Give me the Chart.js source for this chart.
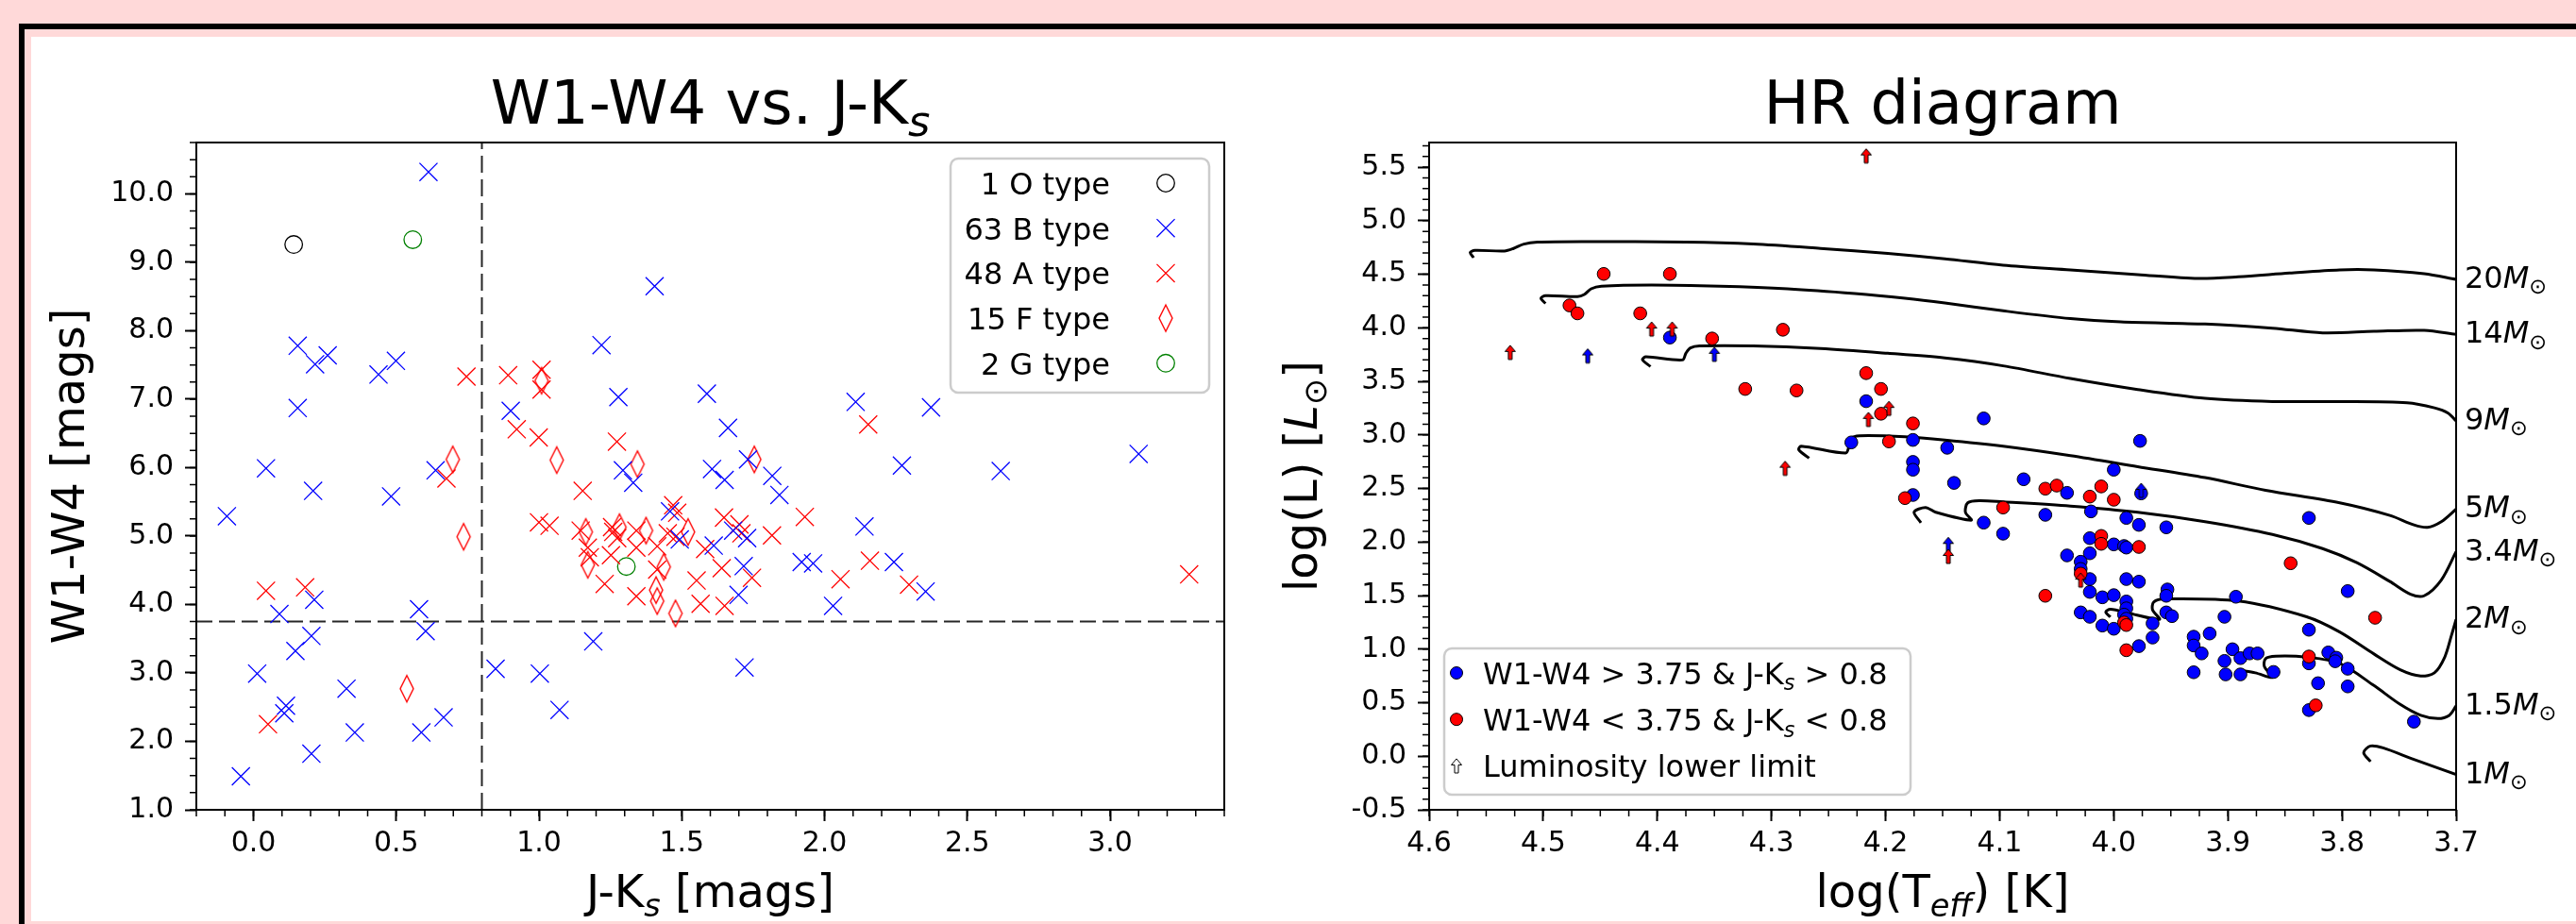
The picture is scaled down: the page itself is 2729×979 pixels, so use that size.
<!DOCTYPE html>
<html>
<head>
<meta charset="utf-8">
<script src="https://cdn.jsdelivr.net/npm/chart.js@4.4.1/dist/chart.umd.min.js"></script>
<style>
  html, body { margin: 0; padding: 0; width: 2729px; height: 979px; overflow: hidden; background: #ffd9d9; }
  #frame { position: absolute; left: 20px; top: 25px; border: 6px solid #000; padding: 8px 0 8px 7px; background: #ffd9d9; }
  #paper { width: 2800px; height: 937px; background: #fff; }
  canvas { position: absolute; left: 0; top: 0; }
</style>
</head>
<body>
<div id="frame"><div id="paper"></div></div>
<canvas id="colour" width="2729" height="979"></canvas>
<canvas id="hr" width="2729" height="979"></canvas>
<script>
// ---------- W1-W4 vs J-Ks ----------
const oTypeJK = [0.141];
const oTypeW = [9.26];
const bTypeJK = [0.613,1.405,0.155,0.216,0.260,0.438,0.499,1.219,1.278,0.901,0.155,0.044,0.638,1.294,1.330,0.209,0.482,-0.093,1.459,1.588,2.109,2.373,1.662,3.100,2.271,2.617,1.606,1.650,1.732,1.817,1.842,2.140,0.213,0.091,0.580,0.603,0.203,0.147,0.013,0.848,1.003,1.190,1.072,0.114,0.108,0.326,0.666,0.355,0.588,0.203,-0.044,1.493,1.612,1.680,1.729,1.717,1.699,1.920,1.960,2.030,2.243,2.354,1.720];
const bTypeW = [10.32,8.65,7.78,7.51,7.64,7.36,7.56,7.79,7.03,6.83,6.87,5.99,5.96,5.96,5.78,5.66,5.58,5.29,5.36,7.08,6.96,6.88,6.58,6.20,6.03,5.95,5.98,5.82,6.12,5.88,5.60,5.14,4.07,3.86,3.93,3.61,3.54,3.32,2.99,3.06,2.99,3.46,2.46,2.52,2.41,2.77,2.35,2.13,2.13,1.82,1.49,4.95,4.86,5.08,4.97,4.56,4.14,4.62,4.60,3.98,4.62,4.19,3.08];
const aTypeJK = [0.746,0.892,1.009,1.009,0.922,0.999,1.273,0.676,1.153,2.153,1.470,1.484,1.931,0.044,0.181,0.051,1.000,1.037,1.146,1.256,1.260,1.341,1.274,1.341,1.414,1.451,1.478,1.582,1.648,1.702,1.709,1.816,1.171,1.230,1.178,1.252,1.341,1.414,1.552,1.640,1.566,1.650,1.746,2.056,2.159,2.296,3.277];
const aTypeW = [7.33,7.35,7.43,7.14,6.56,6.44,6.38,5.84,5.66,6.63,5.45,5.34,5.28,4.20,4.25,2.25,5.20,5.15,5.08,5.13,5.06,5.08,4.97,4.83,4.85,5.04,4.99,4.81,5.27,5.17,5.04,5.01,4.83,4.30,4.69,4.72,4.12,4.51,4.35,4.53,4.01,3.98,4.39,4.37,4.64,4.29,4.44];
const fTypeJK = [1.009,1.062,1.345,0.698,1.754,0.736,0.537,1.164,1.282,1.375,1.522,1.171,1.437,1.410,1.414,1.478];
const fTypeW = [7.27,6.11,6.05,6.12,6.12,4.99,2.77,5.06,5.13,5.08,5.06,4.58,4.55,4.21,4.05,3.87];
const gTypeJK = [0.558,1.306];
const gTypeW = [9.33,4.555];
const cutJK = 0.8;
const cutW = 3.75;
const jkTicks = [0.0, 0.5, 1.0, 1.5, 2.0, 2.5, 3.0];
const wTicks = [1, 2, 3, 4, 5, 6, 7, 8, 9, 10];

// ---------- HR diagram ----------
const blueLogT = [4.389,4.217,4.230,4.176,4.176,4.176,4.176,4.114,3.977,4.146,4.000,4.140,4.079,4.041,3.976,4.060,4.114,4.097,4.020,3.989,3.978,3.954,3.829,4.021,4.000,3.991,3.989,4.041,4.021,4.029,4.029,4.021,3.989,3.978,3.795,4.021,4.010,4.000,3.989,3.989,3.991,3.989,3.953,3.954,3.893,3.954,3.949,3.903,4.029,4.021,4.010,4.000,3.966,3.966,3.829,3.930,3.916,3.930,3.923,3.978,3.896,3.903,3.889,3.881,3.874,3.930,3.902,3.889,3.860,3.829,3.812,3.805,3.806,3.795,3.821,3.795,3.829,3.737];
const blueLogL = [3.909,3.315,2.930,2.953,2.748,2.675,2.439,3.154,2.944,2.880,2.675,2.552,2.586,2.459,2.454,2.254,2.181,2.078,2.286,2.225,2.160,2.137,2.225,2.036,1.978,1.963,1.948,1.875,1.895,1.816,1.749,1.654,1.654,1.630,1.542,1.534,1.484,1.504,1.445,1.381,1.322,1.284,1.557,1.498,1.489,1.343,1.308,1.302,1.343,1.302,1.220,1.190,1.240,1.108,1.181,1.116,1.146,1.034,0.960,1.028,0.999,0.890,0.916,0.960,0.960,0.784,0.764,0.764,0.787,0.867,0.969,0.920,0.887,0.817,0.682,0.652,0.431,0.323];
const redLogT = [4.447,4.389,4.477,4.470,4.415,4.352,4.290,4.323,4.278,4.217,4.204,4.204,4.176,4.197,4.183,4.060,4.050,4.011,4.021,4.000,4.097,4.011,4.011,3.978,4.029,3.845,4.060,3.771,3.991,3.989,3.989,3.829,3.823];
const redLogL = [4.503,4.503,4.209,4.135,4.135,3.900,3.982,3.429,3.415,3.577,3.429,3.198,3.107,2.939,2.410,2.498,2.527,2.519,2.424,2.395,2.322,2.057,1.983,1.954,1.705,1.802,1.498,1.293,1.249,1.225,0.990,0.931,0.475];
const redArrowT = [4.217,4.405,4.387,4.529,4.197,4.215,4.288,4.145,4.029];
const redArrowL = [5.605,3.989,3.989,3.771,3.248,3.145,2.689,1.866,1.645];
const blueArrowT = [4.461,4.350,3.976,4.145];
const blueArrowL = [3.738,3.753,2.483,1.978];

// evolutionary tracks, [log Teff, log L]
const track20 = [[4.561,4.655],[4.564,4.703],[4.560,4.723],[4.534,4.717],[4.526,4.741],[4.517,4.782],[4.505,4.800],[4.464,4.805],[4.375,4.800],[4.316,4.782],[4.257,4.741],[4.198,4.694],[4.148,4.644],[4.097,4.585],[4.038,4.541],[3.979,4.497],[3.926,4.461],[3.891,4.476],[3.846,4.511],[3.802,4.541],[3.772,4.541],[3.728,4.505],[3.700,4.452]];
const track14 = [[4.498,4.227],[4.502,4.276],[4.498,4.300],[4.470,4.291],[4.464,4.311],[4.458,4.364],[4.449,4.388],[4.405,4.399],[4.345,4.388],[4.286,4.364],[4.227,4.320],[4.183,4.276],[4.148,4.232],[4.097,4.159],[4.038,4.086],[3.994,4.056],[3.920,4.035],[3.861,3.997],[3.817,3.953],[3.772,3.967],[3.728,3.976],[3.700,3.938]];
const track9 = [[4.406,3.638],[4.413,3.703],[4.410,3.729],[4.378,3.700],[4.375,3.762],[4.371,3.812],[4.363,3.830],[4.316,3.830],[4.257,3.806],[4.198,3.762],[4.148,3.718],[4.097,3.645],[4.038,3.527],[3.979,3.424],[3.920,3.341],[3.861,3.312],[3.802,3.312],[3.743,3.301],[3.719,3.253],[3.707,3.204],[3.700,3.130]];
const track5 = [[4.267,2.783],[4.276,2.860],[4.274,2.895],[4.235,2.830],[4.232,2.895],[4.230,2.968],[4.223,2.992],[4.183,2.983],[4.148,2.953],[4.097,2.895],[4.038,2.807],[3.979,2.704],[3.920,2.601],[3.867,2.483],[3.802,2.366],[3.758,2.248],[3.737,2.160],[3.725,2.137],[3.713,2.190],[3.700,2.307]];
const track34 = [[4.169,2.180],[4.175,2.279],[4.165,2.323],[4.156,2.278],[4.125,2.204],[4.130,2.278],[4.128,2.366],[4.118,2.386],[4.097,2.375],[4.038,2.336],[3.979,2.278],[3.920,2.190],[3.861,2.071],[3.817,1.939],[3.787,1.807],[3.758,1.631],[3.740,1.513],[3.728,1.498],[3.713,1.645],[3.700,1.910]];
const track2 = [[4.003,1.299],[4.007,1.346],[4.003,1.372],[3.985,1.331],[3.960,1.278],[3.966,1.366],[3.965,1.440],[3.955,1.469],[3.891,1.449],[3.831,1.302],[3.802,1.160],[3.772,0.955],[3.749,0.808],[3.731,0.749],[3.719,0.779],[3.710,0.925],[3.704,1.131],[3.700,1.278]];
const track15 = [[3.889,0.802],[3.876,0.779],[3.861,0.735],[3.868,0.837],[3.867,0.911],[3.858,0.934],[3.831,0.925],[3.802,0.867],[3.772,0.660],[3.749,0.484],[3.731,0.382],[3.716,0.352],[3.706,0.382],[3.700,0.470]];
const track1 = [[3.775,-0.050],[3.781,0.034],[3.775,0.096],[3.764,0.078],[3.737,-0.030],[3.700,-0.171]];
const trackMasses = ['20', '14', '9', '5', '3.4', '2', '1.5', '1'];
const teffTicks = [4.6, 4.5, 4.4, 4.3, 4.2, 4.1, 4.0, 3.9, 3.8, 3.7];
const lumTicks = [-0.5, 0.0, 0.5, 1.0, 1.5, 2.0, 2.5, 3.0, 3.5, 4.0, 4.5, 5.0, 5.5];

// ---------- helpers ----------
const FONT = '"DejaVu Sans"';
Chart.defaults.font.family = FONT;
Chart.defaults.color = '#000';

function pts(xs, ys) { return xs.map((x, i) => ({ x: x, y: ys[i] })); }

function richText(ctx, parts, x, y, size, align) {
  const items = parts.map(p => {
    const s = p.sub ? size * 0.7 : size;
    const font = (p.it ? 'italic ' : '') + s + 'px ' + FONT;
    ctx.font = font;
    return { t: p.t, font: font, w: ctx.measureText(p.t).width, dy: p.sub ? size * 0.2 : 0 };
  });
  const total = items.reduce((a, b) => a + b.w, 0);
  let cx = align === 'center' ? x - total / 2 : (align === 'right' ? x - total : x);
  ctx.textAlign = 'left';
  ctx.textBaseline = 'alphabetic';
  ctx.fillStyle = '#000';
  items.forEach(it => { ctx.font = it.font; ctx.fillText(it.t, cx, y + it.dy); cx += it.w; });
}

function makeDiamond(color) {
  const c = document.createElement('canvas');
  c.width = 18; c.height = 32;
  const g = c.getContext('2d');
  g.strokeStyle = color; g.lineWidth = 1.4;
  g.beginPath(); g.moveTo(9, 2); g.lineTo(16, 16); g.lineTo(9, 30); g.lineTo(2, 16); g.closePath();
  g.stroke();
  return c;
}

function makeArrow(fill) {
  const c = document.createElement('canvas');
  c.width = 16; c.height = 19;
  const g = c.getContext('2d');
  g.fillStyle = fill; g.strokeStyle = '#000'; g.lineWidth = 1;
  g.beginPath();
  g.moveTo(8, 2); g.lineTo(13.5, 8.5); g.lineTo(10, 8.5); g.lineTo(10, 17); g.lineTo(6, 17); g.lineTo(6, 8.5); g.lineTo(2.5, 8.5);
  g.closePath(); g.fill(); g.stroke();
  return c;
}

function legendMarker(ctx, ds, x, y) {
  const ps = ds.pointStyle;
  if (ps instanceof HTMLCanvasElement) { ctx.drawImage(ps, x - ps.width / 2, y - ps.height / 2); return; }
  ctx.save();
  ctx.lineWidth = ds.borderWidth; ctx.strokeStyle = ds.borderColor; ctx.fillStyle = ds.backgroundColor;
  ctx.beginPath();
  if (ps === 'crossRot') {
    const o = ds.pointRadius * Math.SQRT1_2;
    ctx.moveTo(x - o, y - o); ctx.lineTo(x + o, y + o);
    ctx.moveTo(x + o, y - o); ctx.lineTo(x - o, y + o);
  } else {
    ctx.arc(x, y, ds.pointRadius, 0, Math.PI * 2);
    ctx.fill();
  }
  ctx.stroke();
  ctx.restore();
}

function legendBox(ctx, x, y, w, h) {
  ctx.save();
  ctx.beginPath();
  ctx.roundRect(x, y, w, h, 8);
  ctx.fillStyle = 'rgba(255,255,255,0.8)';
  ctx.fill();
  ctx.lineWidth = 2.5; ctx.strokeStyle = '#cccccc';
  ctx.stroke();
  ctx.restore();
}

function minorTicks(ctx, scale, from, to, step, vertical, a) {
  ctx.save();
  ctx.strokeStyle = '#000'; ctx.lineWidth = 1.5;
  ctx.beginPath();
  const n = Math.round((to - from) / step);
  for (let i = 0; i <= n; i++) {
    const p = scale.getPixelForValue(from + i * step);
    if (vertical) { ctx.moveTo(a.left - 7, p); ctx.lineTo(a.left, p); }
    else { ctx.moveTo(p, a.bottom); ctx.lineTo(p, a.bottom + 7); }
  }
  ctx.stroke();
  ctx.restore();
}

function spines(ctx, a) {
  ctx.save();
  ctx.strokeStyle = '#000'; ctx.lineWidth = 2;
  ctx.strokeRect(a.left, a.top, a.right - a.left, a.bottom - a.top);
  ctx.restore();
}

function tickOpts(pad) {
  return { font: { family: FONT, size: 30 }, color: '#000', padding: pad, maxRotation: 0, autoSkip: false,
           callback: v => Number(v).toFixed(1) };
}
const gridOpts = { drawOnChartArea: false, drawTicks: true, tickLength: 12, tickWidth: 2, tickColor: '#000' };

// ---------- left chart ----------
const colourPlugin = {
  id: 'colourDecor',
  afterDatasetsDraw(chart) {
    const { ctx, chartArea: a, scales: { x, y } } = chart;
    spines(ctx, a);
    minorTicks(ctx, x, -0.2, 3.4, 0.1, false, a);
    minorTicks(ctx, y, 1.0, 10.75, 0.25, true, a);
    const cx = (a.left + a.right) / 2, cy = (a.top + a.bottom) / 2;
    richText(ctx, [{ t: 'W1-W4 vs. J-K' }, { t: 's', sub: 1, it: 1 }], cx, 131, 64, 'center');
    richText(ctx, [{ t: 'J-K' }, { t: 's', sub: 1, it: 1 }, { t: ' [mags]' }], cx, 961, 48, 'center');
    ctx.save(); ctx.translate(89, cy); ctx.rotate(-Math.PI / 2);
    richText(ctx, [{ t: 'W1-W4 [mags]' }], 0, 0, 48, 'center');
    ctx.restore();
    // legend, text left of marker
    const bx = a.right - 290, by = a.top + 17;
    legendBox(ctx, bx, by, 274, 248);
    chart.data.datasets.slice(0, 5).forEach((ds, i) => {
      const ry = by + 26 + i * 47.7;
      ctx.font = '32px ' + FONT; ctx.textAlign = 'right'; ctx.textBaseline = 'alphabetic'; ctx.fillStyle = '#000';
      ctx.fillText(ds.label, bx + 169, ry + 12);
      legendMarker(ctx, ds, bx + 228, ry);
    });
  }
};

const diamondRed = makeDiamond('#ff0000');
new Chart(document.getElementById('colour'), {
  type: 'scatter',
  data: {
    datasets: [
      { label: '1 O type', data: pts(oTypeJK, oTypeW), pointStyle: 'circle', pointRadius: 9.3, borderWidth: 1.3, borderColor: '#000000', backgroundColor: 'rgba(0,0,0,0)' },
      { label: '63 B type', data: pts(bTypeJK, bTypeW), pointStyle: 'crossRot', pointRadius: 13.5, borderWidth: 1.3, borderColor: '#0000ff', backgroundColor: '#0000ff' },
      { label: '48 A type', data: pts(aTypeJK, aTypeW), pointStyle: 'crossRot', pointRadius: 13.5, borderWidth: 1.3, borderColor: '#ff0000', backgroundColor: '#ff0000' },
      { label: '15 F type', data: pts(fTypeJK, fTypeW), pointStyle: diamondRed, pointRadius: 10, borderWidth: 1.3, borderColor: '#ff0000', backgroundColor: 'rgba(0,0,0,0)' },
      { label: '2 G type', data: pts(gTypeJK, gTypeW), pointStyle: 'circle', pointRadius: 9.3, borderWidth: 1.3, borderColor: '#008000', backgroundColor: 'rgba(0,0,0,0)' },
      { type: 'line', data: [{ x: -0.2, y: cutW }, { x: 3.4, y: cutW }], borderColor: 'rgba(0,0,0,0.85)', borderWidth: 2, borderDash: [17, 7], pointRadius: 0, fill: false },
      { type: 'line', data: [{ x: cutJK, y: 1.0 }, { x: cutJK, y: 10.75 }], borderColor: 'rgba(0,0,0,0.85)', borderWidth: 2, borderDash: [18, 7], pointRadius: 0, fill: false }
    ]
  },
  options: {
    responsive: false, animation: false, events: [],
    layout: { padding: { left: 108, right: 1432, top: 151, bottom: 61 } },
    plugins: { legend: { display: false }, tooltip: { enabled: false } },
    scales: {
      x: { type: 'linear', min: -0.2, max: 3.4,
           afterBuildTicks: s => { s.ticks = jkTicks.map(v => ({ value: v })); },
           afterFit: s => { s.height = 60; },
           ticks: tickOpts(6), grid: gridOpts, border: { display: false } },
      y: { type: 'linear', min: 1.0, max: 10.75,
           afterBuildTicks: s => { s.ticks = wTicks.map(v => ({ value: v })); },
           afterFit: s => { s.width = 100; },
           ticks: tickOpts(12), grid: gridOpts, border: { display: false } }
    }
  },
  plugins: [colourPlugin]
});

// ---------- right chart ----------
const arrowRed = makeArrow('#ff0000');
const arrowBlue = makeArrow('#0000ff');
const arrowWhite = makeArrow('#ffffff');
const tracks = [track20, track14, track9, track5, track34, track2, track15, track1];

const hrPlugin = {
  id: 'hrDecor',
  afterDatasetsDraw(chart) {
    const { ctx, chartArea: a, scales: { x, y } } = chart;
    spines(ctx, a);
    minorTicks(ctx, x, 3.7, 4.6, 0.025, false, a);
    minorTicks(ctx, y, -0.5, 5.7, 0.1, true, a);
    const cx = (a.left + a.right) / 2, cy = (a.top + a.bottom) / 2;
    richText(ctx, [{ t: 'HR diagram' }], cx, 131, 64, 'center');
    richText(ctx, [{ t: 'log(T' }, { t: 'eff', sub: 1, it: 1 }, { t: ') [K]' }], cx, 961, 48, 'center');
    ctx.save(); ctx.translate(1395, cy); ctx.rotate(-Math.PI / 2);
    richText(ctx, [{ t: 'log(L) [' }, { t: 'L', it: 1 }, { t: '⊙', sub: 1 }, { t: ']' }], 0, 0, 48, 'center');
    ctx.restore();
    // mass labels at the end of each track
    tracks.forEach((tr, i) => {
      const py = y.getPixelForValue(tr[tr.length - 1][1]);
      richText(ctx, [{ t: trackMasses[i] }, { t: 'M', it: 1 }, { t: '⊙', sub: 1 }], a.right + 9, py + 9, 32, 'left');
    });
    // legend
    const bx = a.left + 16, by = a.bottom - 171;
    legendBox(ctx, bx, by, 494, 155);
    const rows = [
      { mk: chart.data.datasets[3], parts: [{ t: 'W1-W4 > 3.75 & J-K' }, { t: 's', sub: 1, it: 1 }, { t: ' > 0.8' }] },
      { mk: chart.data.datasets[2], parts: [{ t: 'W1-W4 < 3.75 & J-K' }, { t: 's', sub: 1, it: 1 }, { t: ' < 0.8' }] },
      { mk: { pointStyle: arrowWhite }, parts: [{ t: 'Luminosity lower limit' }] }
    ];
    rows.forEach((r, i) => {
      const ry = by + 26 + i * 49.2;
      const mk = r.mk.pointStyle instanceof HTMLCanvasElement ? r.mk : Object.assign({}, r.mk, { pointRadius: 6.5 });
      legendMarker(ctx, mk, bx + 13, ry);
      richText(ctx, r.parts, bx + 41, ry + 12, 32, 'left');
    });
  }
};

const trackSets = tracks.map(tr => ({
  type: 'line', data: tr.map(p => ({ x: p[0], y: p[1] })), borderColor: '#000', borderWidth: 3,
  pointRadius: 0, tension: 0.3, fill: false
}));

new Chart(document.getElementById('hr'), {
  type: 'scatter',
  data: {
    datasets: [
      { label: 'red lower limit', data: pts(redArrowT, redArrowL), pointStyle: arrowRed, pointRadius: 8 },
      { label: 'blue lower limit', data: pts(blueArrowT, blueArrowL), pointStyle: arrowBlue, pointRadius: 8 },
      { label: 'W1-W4 < 3.75 & J-Ks < 0.8', data: pts(redLogT, redLogL), pointStyle: 'circle', pointRadius: 6.8, borderWidth: 1, borderColor: '#000', backgroundColor: '#ff0000' },
      { label: 'W1-W4 > 3.75 & J-Ks > 0.8', data: pts(blueLogT, blueLogL), pointStyle: 'circle', pointRadius: 6.8, borderWidth: 1, borderColor: '#000', backgroundColor: '#0000ff' }
    ].concat(trackSets)
  },
  options: {
    responsive: false, animation: false, events: [],
    layout: { padding: { left: 1414, right: 127, top: 151, bottom: 61 } },
    plugins: { legend: { display: false }, tooltip: { enabled: false } },
    scales: {
      x: { type: 'linear', min: 3.7, max: 4.6, reverse: true,
           afterBuildTicks: s => { s.ticks = teffTicks.map(v => ({ value: v })); },
           afterFit: s => { s.height = 60; },
           ticks: tickOpts(6), grid: gridOpts, border: { display: false } },
      y: { type: 'linear', min: -0.5, max: 5.73,
           afterBuildTicks: s => { s.ticks = lumTicks.map(v => ({ value: v })); },
           afterFit: s => { s.width = 100; },
           ticks: tickOpts(12), grid: gridOpts, border: { display: false } }
    }
  },
  plugins: [hrPlugin]
});
</script>
</body>
</html>
